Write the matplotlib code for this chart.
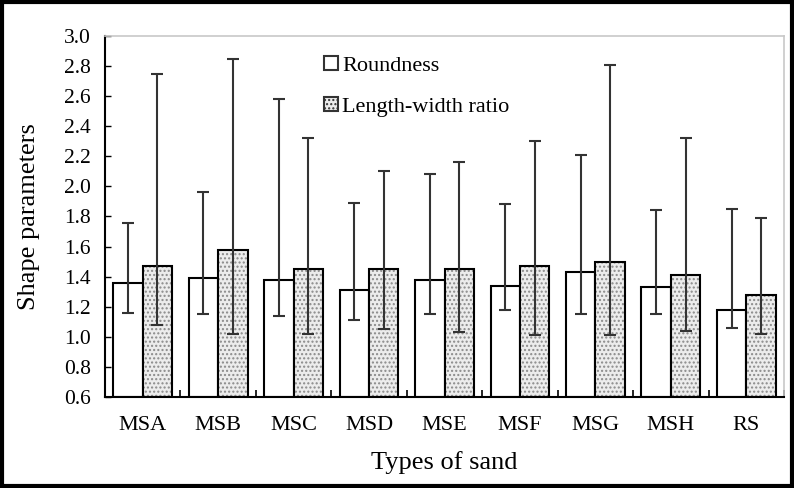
import matplotlib
matplotlib.use("Agg")
import matplotlib.pyplot as plt
import numpy as np
from matplotlib.patches import Patch, Rectangle

plt.rcParams['font.family'] = ['Liberation Serif', 'DejaVu Serif']

categories = ["MSA", "MSB", "MSC", "MSD", "MSE", "MSF", "MSG", "MSH", "RS"]
roundness = [1.36, 1.39, 1.38, 1.31, 1.38, 1.34, 1.43, 1.33, 1.18]
roundness_hi = [1.76, 1.96, 2.58, 1.89, 2.08, 1.88, 2.21, 1.84, 1.85]
roundness_lo = [1.16, 1.15, 1.14, 1.11, 1.15, 1.18, 1.15, 1.15, 1.06]
lw_ratio = [1.47, 1.58, 1.45, 1.45, 1.45, 1.47, 1.50, 1.41, 1.28]
lw_hi = [2.75, 2.85, 2.32, 2.10, 2.16, 2.30, 2.81, 2.32, 1.79]
lw_lo = [1.08, 1.02, 1.02, 1.05, 1.03, 1.01, 1.01, 1.04, 1.02]
yticks = [0.6, 0.8, 1.0, 1.2, 1.4, 1.6, 1.8, 2.0, 2.2, 2.4, 2.6, 2.8, 3.0]

fig = plt.figure(figsize=(7.94, 4.88), dpi=100)
ax = fig.add_axes([105/794, 1-397/488, 679/794, 361/488])

x = np.arange(len(categories))
w = 0.39
base = 0.6
r = np.array(roundness); l = np.array(lw_ratio)
# Roundness bars
ax.bar(x - w/2, r - base, w, bottom=base, facecolor='white', edgecolor='black', linewidth=1.5, zorder=2)
# Length-width bars: hatched fill then outline
ax.bar(x + w/2, l - base, w, bottom=base, facecolor='#ececec', edgecolor='#8a8a8a', hatch='....', linewidth=0, zorder=2)
ax.bar(x + w/2, l - base, w, bottom=base, fill=False, edgecolor='black', linewidth=1.5, zorder=3)

err_r = [r - np.array(roundness_lo), np.array(roundness_hi) - r]
err_l = [l - np.array(lw_lo), np.array(lw_hi) - l]
ax.errorbar(x - w/2, r, yerr=err_r, fmt='none', ecolor='#333333', elinewidth=1.5, capsize=4, capthick=1.5, zorder=4)
ax.errorbar(x + w/2, l, yerr=err_l, fmt='none', ecolor='#333333', elinewidth=1.5, capsize=4, capthick=1.5, zorder=4)

ax.set_xlim(-0.5, len(categories) - 0.5)
ax.set_ylim(0.6, 3.0)
ax.set_yticks(yticks)
ax.set_yticklabels([f"{v:.1f}" for v in yticks], fontsize=15.5)
ax.set_xticks(x)
ax.set_xticklabels(categories, fontsize=16)
ax.tick_params(axis='x', length=0, pad=14)
ax.tick_params(axis='y', direction='in', length=4, width=1, pad=10)
# minor ticks between groups
ax.set_xticks(np.arange(len(categories) + 1) - 0.5, minor=True)
ax.tick_params(axis='x', which='minor', direction='in', length=5, width=1.2)

for s in ['left', 'bottom']:
    ax.spines[s].set_color('black'); ax.spines[s].set_linewidth(1.5)
for s in ['top', 'right']:
    ax.spines[s].set_color('#c8c8c8'); ax.spines[s].set_linewidth(1.2)

ax.set_xlabel("Types of sand", fontsize=19, labelpad=11)
ax.set_ylabel("Shape parameters", fontsize=19, labelpad=17)

handles = [Patch(facecolor='white', edgecolor='#333333', linewidth=1.5),
           Patch(facecolor='#ececec', edgecolor='#333333', hatch='....', linewidth=1.5)]
leg = ax.legend(handles, ["Roundness", "Length-width ratio"], loc='upper left',
                bbox_to_anchor=(0.31, 0.97), frameon=False, fontsize=16,
                handlelength=0.6, handleheight=0.6, handletextpad=0.2, labelspacing=0.95,
                borderaxespad=0)

# outer figure border
fig.patches.append(Rectangle((0.003, 0.004), 0.994, 0.992, transform=fig.transFigure,
                             fill=False, edgecolor='black', linewidth=3))

fig.savefig("out.png", dpi=100)
